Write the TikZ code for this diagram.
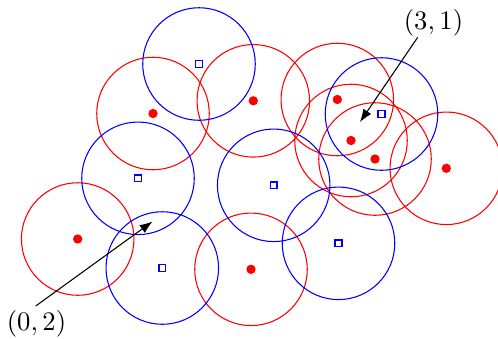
\documentclass[tikz,border=0pt]{standalone}
\usetikzlibrary{arrows.meta}
\begin{document}
\begin{tikzpicture}[x=0.375pt,y=-0.375pt,
  redring/.style={draw=red,line width=0.4pt},
  bluering/.style={draw=blue,line width=0.4pt},
  reddot/.style={circle,fill=red,inner sep=0pt,minimum size=3.5pt},
  bluesq/.style={rectangle,draw=blue,line width=0.6pt,inner sep=0pt,minimum size=2.5pt},
  lbl/.style={inner sep=0pt},
  pointer/.style={-{Latex},line width=0.4pt,black}]
\useasboundingbox (0,0) rectangle (498,338);
% red points
\coordinate (r1) at (153,113.5);
\coordinate (r2) at (253.3,100.8);
\coordinate (r3) at (337.3,99.5);
\coordinate (r4) at (351,140.5);
\coordinate (r5) at (375,159);
\coordinate (r6) at (446.3,168.3);
\coordinate (r7) at (77.7,239);
\coordinate (r8) at (251,269.3);
% blue points
\coordinate (b1) at (199,64);
\coordinate (b2) at (381.5,114);
\coordinate (b3) at (138,178.3);
\coordinate (b4) at (162.3,268);
\coordinate (b5) at (273.7,185.3);
\coordinate (b6) at (338.5,243.3);
% circles
\foreach \p in {r1,r2,r3,r4,r5,r6,r7,r8} \draw[redring] (\p) circle (21.1pt);
\foreach \p in {b1,b2,b3,b4,b5,b6} \draw[bluering] (\p) circle (21.1pt);
% markers
\foreach \p in {r1,r2,r3,r4,r5,r6,r7,r8} \node[reddot] (m\p) at (\p) {};
\foreach \p in {b1,b2,b3,b4,b5,b6} \node[bluesq] (m\p) at (\p) {};
% labels and arrows
\node[lbl] (l31) at (433.5,22.5) {$(3,1)$};
\node[lbl] (l02) at (36.5,323.5) {$(0,2)$};
\coordinate (s31) at (417.7,37.3);
\coordinate (s02) at (35.7,306);
\coordinate (t31) at (360,122);
\coordinate (t02) at (152.5,221.5);
\draw[pointer] (s31) -- (t31);
\draw[pointer] (s02) -- (t02);
\end{tikzpicture}
\end{document}
